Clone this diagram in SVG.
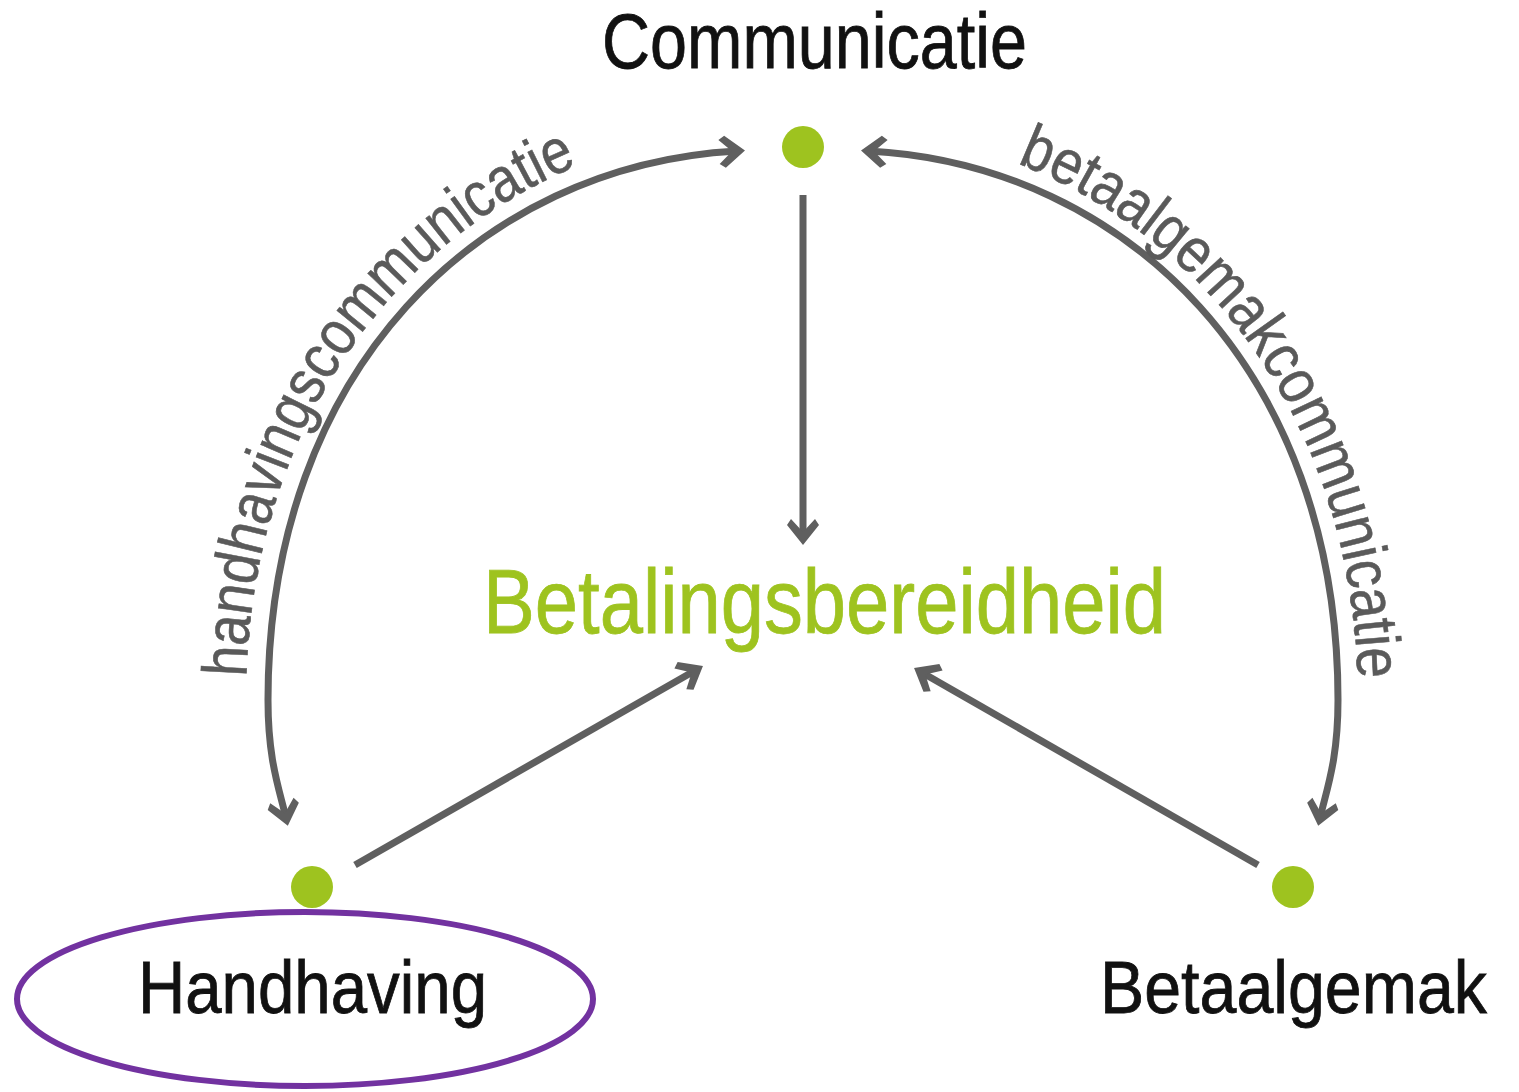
<svg xmlns="http://www.w3.org/2000/svg" width="1519" height="1092" viewBox="0 0 1519 1092">
  <style>
    .conn { fill: none; stroke: #5f5f5f; stroke-width: 7; stroke-linecap: butt; }
    .dot { fill: #9ec31f; }
    .label { font-family: "Liberation Sans", Arial, sans-serif; fill: #111111; stroke: #111111; stroke-width: 0.8; }
    .center { font-family: "Liberation Sans", Arial, sans-serif; fill: #9ec31f; stroke: #9ec31f; stroke-width: 0.8; }
    .curve { font-family: "Liberation Sans", Arial, sans-serif; fill: #5a5a5a; stroke: #5a5a5a; stroke-width: 0.6; font-size: 63px; }
  </style>
  <defs>
    <marker id="arrow" markerUnits="userSpaceOnUse" viewBox="-28 -17 30 34" markerWidth="30" markerHeight="34" refX="-8" refY="0" orient="auto-start-reverse" overflow="visible">
      <path d="M0,0 L-20,-16 L-26,-12 L-13,0 L-26,12 L-20,16 Z" fill="#5f5f5f"/>
    </marker>
    <path id="leftTextPath" d="M 246,700 C 246,365 476,143 744,128"/>
    <path id="rightTextPath" d="M 862,130 C 1128,145 1358,365 1358,700"/>
  </defs>

  <g id="connectors">
    <path class="conn" d="M 286,818 C 279,788 268,760 268,700 C 268,370 480,165 737,151" marker-start="url(#arrow)" marker-end="url(#arrow)"/>
    <path class="conn" d="M 1320,818 C 1327,788 1338,760 1338,700 C 1338,370 1126,165 869,151" marker-start="url(#arrow)" marker-end="url(#arrow)"/>
    <path class="conn" d="M 803,195 L 803,537" marker-end="url(#arrow)"/>
    <path class="conn" d="M 355,865 L 696,670" marker-end="url(#arrow)"/>
    <path class="conn" d="M 1258,865 L 921,672" marker-end="url(#arrow)"/>
    <text class="curve"><textPath href="#leftTextPath" startOffset="23" textLength="645" lengthAdjust="spacingAndGlyphs">handhavingscommunicatie</textPath></text>
    <text class="curve"><textPath href="#rightTextPath" startOffset="159" textLength="656" lengthAdjust="spacingAndGlyphs">betaalgemakcommunicatie</textPath></text>
  </g>

  <g id="node-communicatie">
    <circle class="dot" cx="803" cy="147" r="21"/>
    <text class="label" x="602" y="68" font-size="77" textLength="425" lengthAdjust="spacingAndGlyphs">Communicatie</text>
  </g>

  <g id="node-betalingsbereidheid">
    <text class="center" x="483" y="633" font-size="90" textLength="683" lengthAdjust="spacingAndGlyphs">Betalingsbereidheid</text>
  </g>

  <g id="node-handhaving">
    <circle class="dot" cx="312" cy="887" r="21"/>
    <text class="label" x="138" y="1013" font-size="75" textLength="349" lengthAdjust="spacingAndGlyphs">Handhaving</text>
    <ellipse cx="305" cy="999" rx="288" ry="87" fill="none" stroke="#7232a0" stroke-width="6"/>
  </g>

  <g id="node-betaalgemak">
    <circle class="dot" cx="1293" cy="887" r="21"/>
    <text class="label" x="1100" y="1013" font-size="75" textLength="387" lengthAdjust="spacingAndGlyphs">Betaalgemak</text>
  </g>
</svg>
